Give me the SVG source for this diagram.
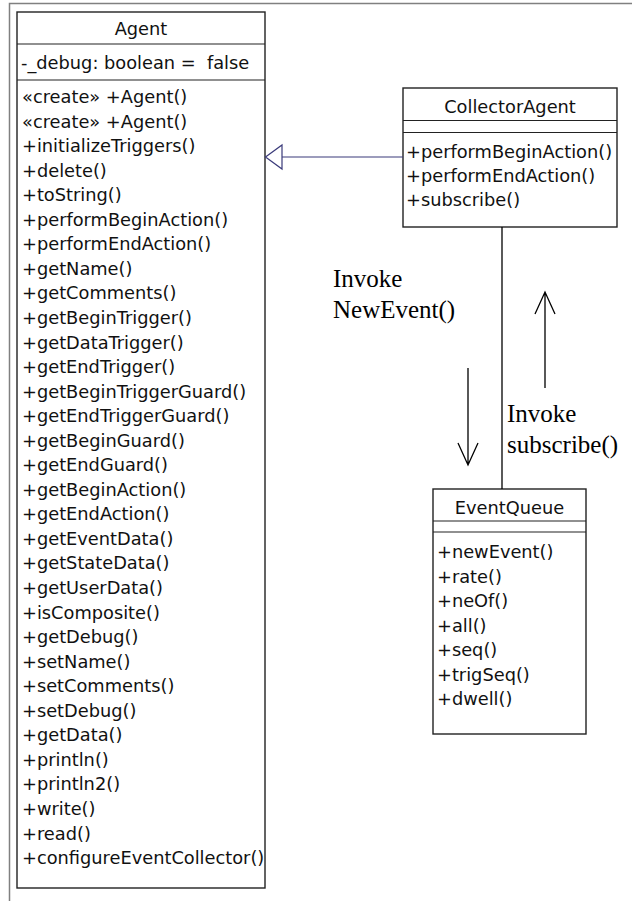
<svg xmlns="http://www.w3.org/2000/svg" width="632" height="901" viewBox="0 0 632 901">
  <style>
    .box { fill: #ffffff; stroke: #222222; stroke-width: 1.4; }
    .div { stroke: #222222; stroke-width: 1.2; fill: none; }
    .uml { font-family: "DejaVu Sans", "Liberation Sans", sans-serif; font-size: 17.8px; fill: #111111; }
    .title { text-anchor: middle; }
    .note { font-family: "Liberation Serif", "Times New Roman", serif; font-size: 25px; fill: #000000; }
    .wire { stroke: #000000; stroke-width: 1.3; fill: none; }
    .gen { stroke: #3a3a7a; stroke-width: 1.2; fill: none; }
  </style>

  <rect width="632" height="901" fill="#ffffff"/>
  <!-- page frame -->
  <path d="M9.5,901 V3.5 H632" fill="none" stroke="#808080" stroke-width="1.5"/>

  <g id="Agent">
    <rect class="box" x="17" y="12" width="248" height="876"/>
    <line class="div" x1="17" y1="44" x2="265" y2="44"/>
    <line class="div" x1="17" y1="80" x2="265" y2="80"/>
    <text class="uml title" x="141" y="35">Agent</text>
    <text class="uml" x="21" y="69" xml:space="preserve">-_debug: boolean =  false</text>
    <text class="uml" x="22" y="103">«create» +Agent()</text>
    <text class="uml" x="22" y="127.5">«create» +Agent()</text>
    <text class="uml" x="22" y="152">+initializeTriggers()</text>
    <text class="uml" x="22" y="176.6">+delete()</text>
    <text class="uml" x="22" y="201.2">+toString()</text>
    <text class="uml" x="22" y="225.7">+performBeginAction()</text>
    <text class="uml" x="22" y="250.3">+performEndAction()</text>
    <text class="uml" x="22" y="274.8">+getName()</text>
    <text class="uml" x="22" y="299.4">+getComments()</text>
    <text class="uml" x="22" y="323.9">+getBeginTrigger()</text>
    <text class="uml" x="22" y="348.5">+getDataTrigger()</text>
    <text class="uml" x="22" y="373">+getEndTrigger()</text>
    <text class="uml" x="22" y="397.6">+getBeginTriggerGuard()</text>
    <text class="uml" x="22" y="422.1">+getEndTriggerGuard()</text>
    <text class="uml" x="22" y="446.7">+getBeginGuard()</text>
    <text class="uml" x="22" y="471.2">+getEndGuard()</text>
    <text class="uml" x="22" y="495.8">+getBeginAction()</text>
    <text class="uml" x="22" y="520.3">+getEndAction()</text>
    <text class="uml" x="22" y="544.9">+getEventData()</text>
    <text class="uml" x="22" y="569.4">+getStateData()</text>
    <text class="uml" x="22" y="594">+getUserData()</text>
    <text class="uml" x="22" y="618.5">+isComposite()</text>
    <text class="uml" x="22" y="643.1">+getDebug()</text>
    <text class="uml" x="22" y="667.6">+setName()</text>
    <text class="uml" x="22" y="692.2">+setComments()</text>
    <text class="uml" x="22" y="716.7">+setDebug()</text>
    <text class="uml" x="22" y="741.3">+getData()</text>
    <text class="uml" x="22" y="765.8">+println()</text>
    <text class="uml" x="22" y="790.4">+println2()</text>
    <text class="uml" x="22" y="814.9">+write()</text>
    <text class="uml" x="22" y="839.5">+read()</text>
    <text class="uml" x="22" y="864">+configureEventCollector()</text>
  </g>

  <g id="CollectorAgent">
    <rect class="box" x="403" y="88" width="214" height="139"/>
    <line class="div" x1="403" y1="120.5" x2="617" y2="120.5"/>
    <line class="div" x1="403" y1="132.5" x2="617" y2="132.5"/>
    <text class="uml title" x="510" y="113">CollectorAgent</text>
    <text class="uml" x="406" y="158">+performBeginAction()</text>
    <text class="uml" x="406" y="182">+performEndAction()</text>
    <text class="uml" x="406" y="206">+subscribe()</text>
  </g>

  <g id="EventQueue">
    <rect class="box" x="433" y="489" width="153" height="245"/>
    <line class="div" x1="433" y1="521" x2="586" y2="521"/>
    <line class="div" x1="433" y1="532" x2="586" y2="532"/>
    <text class="uml title" x="509.5" y="514">EventQueue</text>
    <text class="uml" x="437" y="558">+newEvent()</text>
    <text class="uml" x="437" y="582.5">+rate()</text>
    <text class="uml" x="437" y="607">+neOf()</text>
    <text class="uml" x="437" y="631.5">+all()</text>
    <text class="uml" x="437" y="656">+seq()</text>
    <text class="uml" x="437" y="680.5">+trigSeq()</text>
    <text class="uml" x="437" y="705">+dwell()</text>
  </g>

  <g id="connectors">
    <!-- generalization: CollectorAgent extends Agent -->
    <line class="gen" x1="403" y1="157" x2="282" y2="157"/>
    <polygon class="gen" points="265.5,157 282,145 282,169" fill="#ffffff"/>
    <!-- association: CollectorAgent to EventQueue -->
    <line class="wire" x1="502" y1="227" x2="502" y2="489"/>
    <!-- message flow arrows -->
    <path class="wire" d="M468,368 V465 M458,443 L468,465 L478,443"/>
    <path class="wire" d="M545,388 V292 M535,314 L545,292 L555,314"/>
    <text class="note" x="333" y="287">Invoke</text>
    <text class="note" x="333" y="318">NewEvent()</text>
    <text class="note" x="507" y="422">Invoke</text>
    <text class="note" x="507" y="453">subscribe()</text>
  </g>
</svg>
